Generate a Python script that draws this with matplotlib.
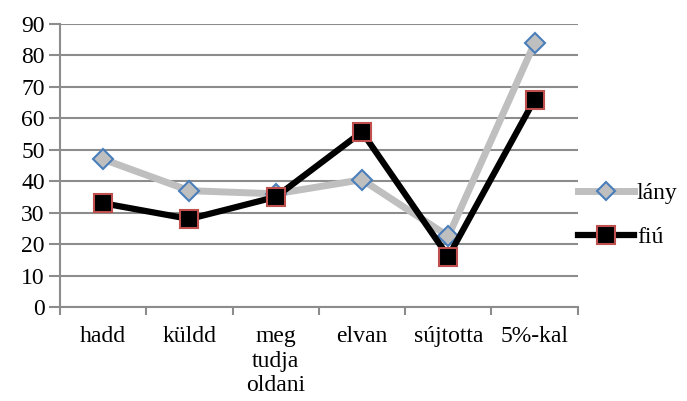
import matplotlib.pyplot as plt
import numpy as np

plt.rcParams['font.family'] = ['Liberation Serif', 'DejaVu Serif']

kategoriak = ['hadd', 'küldd', 'meg\ntudja\noldani', 'elvan', 'sújtotta', '5%-kal']
lany = [47, 37, 36, 40.5, 22.5, 84]
fiu = [33, 28, 35, 55.7, 16, 66]

fig = plt.figure(figsize=(6.87, 4.01), dpi=100)
ax = fig.add_axes([0.0873, 0.2344, 0.7537, 0.7056])

x = np.arange(len(kategoriak))
ax.plot(x, lany, color='#bfbfbf', lw=5, marker='D', ms=10, mfc='#bfbfbf',
        mec='#4a7ebb', mew=1.5, label='lány', zorder=3)
ax.plot(x, fiu, color='black', lw=4.5, marker='s', ms=13, mfc='black',
        mec='#c0504d', mew=1.5, label='fiú', zorder=4)

ax.set_xlim(-0.5, len(kategoriak) - 0.5)
ax.set_ylim(0, 90)
ax.set_yticks(np.arange(0, 91, 10))
ax.yaxis.grid(True, color='#8c8c8c', lw=1.5)
ax.set_axisbelow(True)

# osztásjelek a kategóriák között
ax.set_xticks(np.arange(-0.5, len(kategoriak)), minor=False)
ax.set_xticklabels([])
ax.set_xticks(x, minor=True)
ax.set_xticklabels(kategoriak, minor=True, fontsize=17, va='top', linespacing=1.2)
ax.tick_params(axis='x', which='minor', length=0, pad=14)
ax.tick_params(axis='x', which='major', length=6, width=1.5, color='#8c8c8c', direction='out')
ax.tick_params(axis='y', length=8, width=1.5, color='#8c8c8c', labelsize=17, pad=3)

for s in ['top', 'right']:
    ax.spines[s].set_visible(False)
for s in ['left', 'bottom']:
    ax.spines[s].set_color('#8c8c8c')
    ax.spines[s].set_linewidth(1.5)

ax.legend(loc='center left', bbox_to_anchor=(1.0, 0.325), frameon=False,
          fontsize=17, handlelength=2.4, handletextpad=0.1, labelspacing=0.95,
          borderaxespad=0, borderpad=0, markerscale=0.95)

fig.savefig('out.png', dpi=100)
